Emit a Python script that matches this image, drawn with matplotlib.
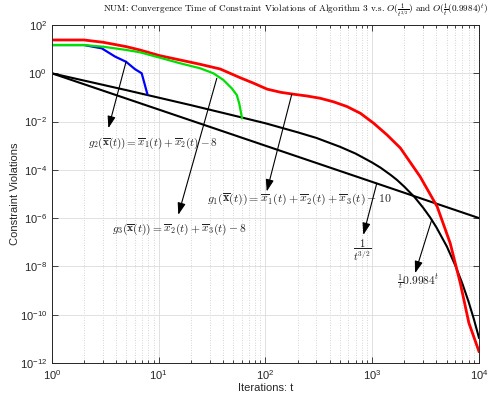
import numpy as np
import matplotlib
matplotlib.use("Agg")
import matplotlib.pyplot as plt
from matplotlib.ticker import LogLocator, LogFormatterSciNotation, NullLocator

plt.rcParams['font.family'] = ['Liberation Sans', 'DejaVu Sans']

# constraint violations
t_blue = [1, 2, 2.94, 3.92, 4.96, 6.03, 6.95, 7.85]
v_blue = [14.8, 14.8, 10.8, 4.9, 3.0, 1.47, 1.0, 0.139]

t_green = [1, 2, 3.04, 5.03, 6.71, 10.3, 15.9, 24.5, 32.6, 40.4, 48.4, 54, 57, 60.5]
v_green = [14.8, 14.8, 12.6, 9.2, 7.4, 4.43, 2.6, 1.61, 1.0, 0.53, 0.24, 0.126, 0.055, 0.0137]

t_red = [1, 2, 3.04, 5.03, 6.71, 8.93, 10.3, 15.9, 24.5, 37.7, 57.9, 78, 104, 139, 185,
         244, 327, 434, 580, 776, 1034, 1378, 1838, 2814, 4060, 5380, 6690, 8050, 10000]
v_red = [24, 24, 19.2, 12.6, 9.2, 6.4, 5.36, 3.56, 2.36, 1.51, 0.66, 0.385, 0.22, 0.163, 0.135,
         0.115, 0.092, 0.066, 0.042, 0.022, 0.0085, 0.0028, 8e-4, 5.2e-5, 3e-6, 9.1e-8,
         2e-9, 4.5e-11, 3e-12]

# reference rates
t_pow = [1, 10000]
v_pow = [1.0, 1e-6]

t_exp = [1, 2, 5, 10, 20, 50, 100, 200, 300, 500, 700, 1000, 1200, 1500, 1700, 2000,
         2500, 3000, 3500, 4000, 5000, 6000, 7000, 8000, 9000, 10000]
v_exp = [1.0, 0.5, 0.2, 0.098, 0.048, 0.018, 0.0085, 0.0036, 0.0021, 9.0e-4, 4.7e-4,
         2.0e-4, 1.22e-4, 6.0e-5, 3.87e-5, 2.0e-5, 7.3e-6, 2.7e-6, 1.05e-6, 4.1e-7,
         6.7e-8, 1.1e-8, 1.9e-9, 3.4e-10, 6.1e-11, 1.1e-11]

fig = plt.figure(figsize=(4.93, 3.94), dpi=100)
ax = fig.add_axes([0.105, 0.079, 0.8665, 0.8575])

ax.loglog(t_pow, v_pow, color='k', lw=1.5)
ax.loglog(t_exp, v_exp, color='k', lw=1.5)
ax.loglog(t_red, v_red, color='#ff0000', lw=2)
ax.loglog(t_blue, v_blue, color='#0000ff', lw=1.6)
ax.loglog(t_green, v_green, color='#00e000', lw=1.6)

ax.set_xlim(1, 1e4)
ax.set_ylim(1e-12, 1e2)

ax.xaxis.set_major_locator(LogLocator(base=10, numticks=10))
ax.xaxis.set_minor_locator(LogLocator(base=10, subs=np.arange(2, 10), numticks=20))
ax.yaxis.set_major_locator(LogLocator(base=100, numticks=10))
ax.yaxis.set_major_formatter(LogFormatterSciNotation(base=10))
ax.yaxis.set_minor_locator(NullLocator())

ax.grid(True, which='major', color='#dcdcdc', lw=0.6, ls='-')
ax.grid(True, which='minor', axis='x', color='#c8c8c8', lw=0.6, ls=(0, (1, 2)))
ax.set_axisbelow(True)

dark = '#262626'
ax.tick_params(which='both', direction='in', top=True, right=True, colors=dark,
               labelcolor=dark, labelsize=8)
ax.tick_params(which='major', length=4, width=0.6)
ax.tick_params(which='minor', length=2, width=0.6)
for s in ax.spines.values():
    s.set_color(dark)
    s.set_linewidth(0.7)

ax.set_xlabel('Iterations: t', fontsize=8, color=dark, labelpad=1)
ax.set_ylabel('Constraint Violations', fontsize=8, color=dark, labelpad=0)

fig.text(0.600, 0.972,
         r'NUM: Convergence Time of Constraint Violations of Algorithm 3 v.s. '
         r'$O(\frac{1}{t^{3/2}})$ and $O(\frac{1}{t}(0.9984)^t)$',
         ha='center', va='center', fontsize=6.6, family='cmr10', math_fontfamily='cm')

arrow = dict(arrowstyle='-|>,head_length=0.9,head_width=0.3', color='k', lw=0.8,
             shrinkA=0, shrinkB=0, mutation_scale=8)

# (tail on curve, arrow head, label position, label)
notes = [
    ((4.96, 3.0), (3.39, 5.3e-3), (2.19, 1.3e-3),
     r'$g_2(\overline{\mathbf{x}}(t))=\overline{x}_1(t)+\overline{x}_2(t)-8$', 'left', 8),
    ((35.1, 0.62), (15.3, 1.36e-6), (3.67, 3.5e-7),
     r'$g_3(\overline{\mathbf{x}}(t))=\overline{x}_2(t)+\overline{x}_3(t)-8$', 'left', 8.3),
    ((176.7, 0.135), (103, 1.26e-5), (28.3, 6e-6),
     r'$g_1(\overline{\mathbf{x}}(t))=\overline{x}_1(t)+\overline{x}_2(t)+\overline{x}_3(t)-10$', 'left', 8.6),
    ((1104, 2.73e-5), (827, 2.0e-7), (804, 4.8e-8), r'$\dfrac{1}{t^{3/2}}$', 'center', 7.5),
    ((3614, 8.5e-7), (2523, 5.2e-9), (2690, 2.3e-9), r'$\frac{1}{t}0.9984^t$', 'center', 8.3),
]
for tail, head, pos, label, ha, fs in notes:
    ax.annotate('', xy=head, xytext=tail, arrowprops=arrow)
    ax.text(pos[0], pos[1], label, ha=ha, va='center', fontsize=fs,
            color='#222222', math_fontfamily='cm')

fig.savefig('out.png', dpi=100)
